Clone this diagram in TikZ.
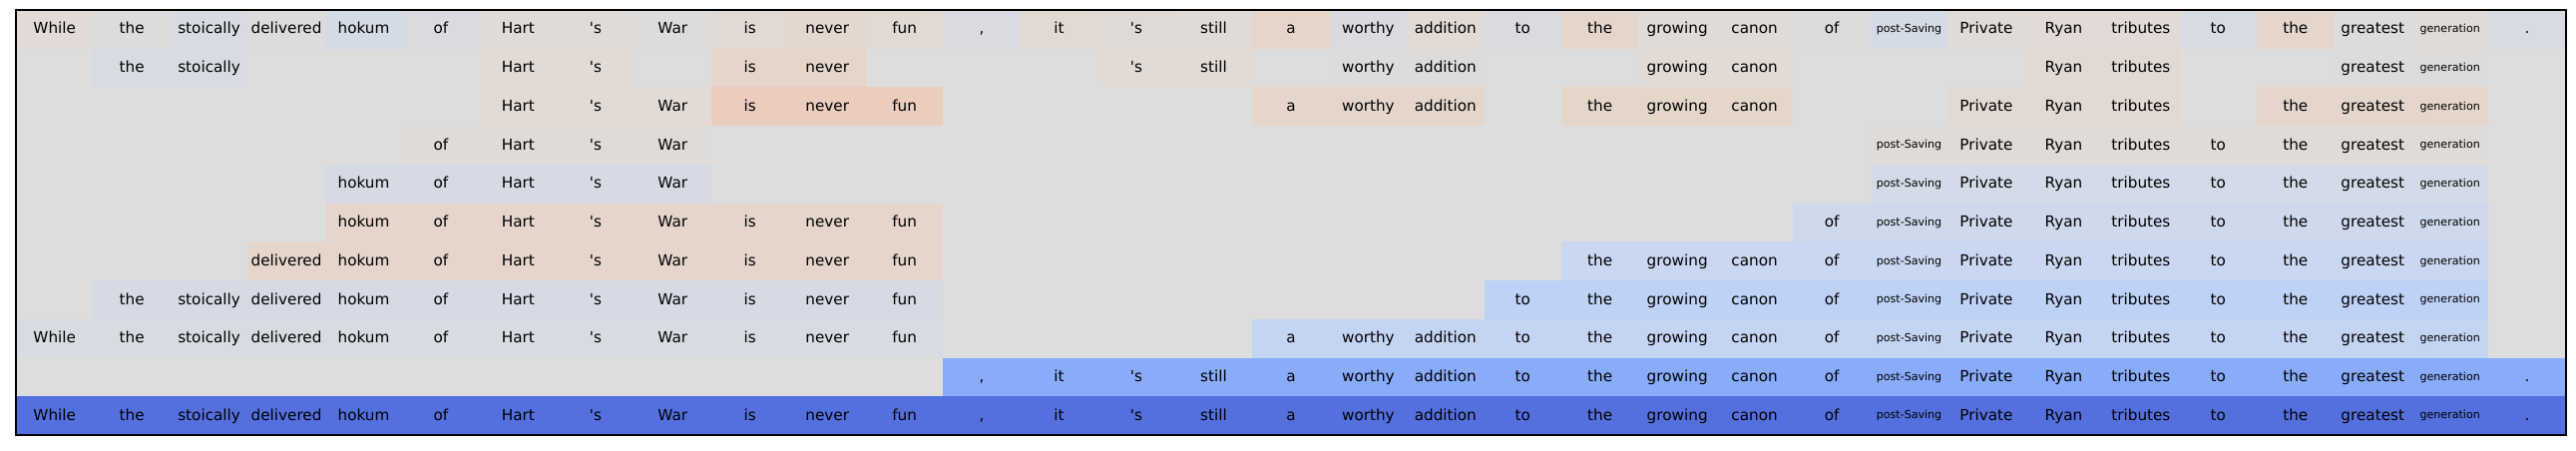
\documentclass[tikz,border=0pt]{standalone}
\usepackage{fontspec}
\setmainfont{DejaVu Sans}
\usepackage{tikz}

\definecolor{gridbg}{HTML}{DDDDDD}
\newcommand\smallword[1]{\raisebox{0.9pt}{\fontsize{8}{9}\selectfont #1}}
% tokens of the sentence, one macro per column
\foreach \w [count=\c] in {While,the,stoically,delivered,hokum,of,Hart,\textquotesingle s,War,is,never,fun,{,},it,\textquotesingle s,still,a,worthy,addition,to,the,growing,canon,of,{\smallword{post-Saving}},Private,Ryan,tributes,to,the,greatest,{\smallword{generation}},.}
  {\expandafter\global\expandafter\let\csname tok\c\endcsname\w}

\tikzset{cell/.style={draw=none, inner sep=0pt, minimum width=0.7745in, minimum height=0.3873in,
  text height=7.5pt, text depth=0.9pt, font=\fontsize{11}{13}\selectfont}}

% row, column, colour
\newcommand\tokcell[3]{\definecolor{cellfill}{HTML}{#3}%
  \node[cell, fill=cellfill] (r#1c#2) at ({16+77.45*(#2-0.5)}, {10+38.73*(#1-0.5)}) {\csname tok#2\endcsname};}
% row, first column, last column, colour
\newcommand\tokrun[4]{\foreach \c in {#2,...,#3} {\tokcell{#1}{\c}{#4}}}

\begin{document}
\begin{tikzpicture}[x=0.01in, y=-0.01in]
\useasboundingbox (0,0) rectangle (2582,451);
\fill[gridbg] (16,10) rectangle (2572,436);
% row 1: each token its own shade
\foreach \c/\h in {1/E1DAD6, 2/DCDCDD, 3/D8DBE2, 4/DEDCDA, 5/D3DBE7, 6/D9DBE0, 7/DFDBD8, 8/DFDBD8,
  9/DDDCDB, 10/E2D9D4, 11/E4D7CE, 12/E2D9D3, 13/D9DBE0, 14/E2D9D3, 15/E0DAD6, 16/DFDBD8,
  17/E6D5C9, 18/D9DBE0, 19/E1DAD5, 20/DADBDF, 21/E5D6CB, 22/DFDBD8, 23/DFDBD8, 24/DCDCDC,
  25/D4DBE6, 26/DFDBD9, 27/E1DAD6, 28/E1DAD6, 29/D7DBE3, 30/E5D6CB, 31/DEDCDA, 32/DFDBD9, 33/D8DBE2}
  {\tokcell{1}{\c}{\h}}
% row 2
\foreach \a/\b/\h in {2/3/D7DBE2, 7/8/E1DAD5, 10/11/E6D5C9, 15/16/E1DAD5, 18/19/DEDCDA,
  22/23/E1DAD5, 27/28/E1D9D4, 31/32/DEDCDA}
  {\tokrun{2}{\a}{\b}{\h}}
% row 3
\foreach \a/\b/\h in {7/9/E1DAD5, 10/12/EBCDBD, 17/19/E5D6CB, 21/23/E5D6CA, 26/28/E2D9D3, 30/32/E5D6CB}
  {\tokrun{3}{\a}{\b}{\h}}
% rows 4 to 11
\foreach \r/\a/\b/\h in {4/6/9/DEDBD9, 4/25/32/DEDBD9, 5/5/9/D5DAE4, 5/25/32/D3DBE8,
  6/5/12/E5D5CA, 6/24/32/CED9EC, 7/4/12/E5D5CA, 7/21/32/C9D7F0,
  8/2/12/D6DAE4, 8/20/32/BDD2F6, 9/1/12/D8DBE1, 9/17/32/C4D5F3,
  10/13/33/88ABFA, 11/1/33/5470DE}
  {\tokrun{\r}{\a}{\b}{\h}}
\draw[line width=0.8pt] (16,10) rectangle (2572,436);
\end{tikzpicture}
\end{document}
